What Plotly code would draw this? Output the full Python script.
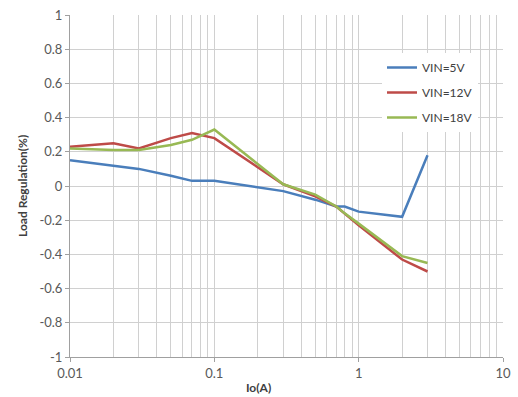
import plotly.graph_objects as go

io_a = [0.01, 0.02, 0.03, 0.05, 0.07, 0.1, 0.3, 0.5, 0.7, 0.8, 1, 2, 3]
vin5 = [0.15, 0.12, 0.10, 0.06, 0.03, 0.03, -0.03, -0.08, -0.12, -0.12, -0.15, -0.18, 0.18]
vin12 = [0.23, 0.25, 0.22, 0.28, 0.31, 0.28, 0.01, -0.06, -0.12, -0.16, -0.23, -0.43, -0.50]
vin18 = [0.22, 0.21, 0.21, 0.24, 0.27, 0.33, 0.01, -0.05, -0.12, -0.16, -0.22, -0.41, -0.45]

series = [("VIN=5V", vin5, "#4A7EBB"), ("VIN=12V", vin12, "#BE4B48"), ("VIN=18V", vin18, "#98B954")]

y_tickvals = [1, 0.8, 0.6, 0.4, 0.2, 0, -0.2, -0.4, -0.6, -0.8, -1]
y_ticktext = ["1", "0.8", "0.6", "0.4", "0.2", "0", "-0.2", "-0.4", "-0.6", "-0.8", "-1"]
x_tickvals = [0.01, 0.1, 1, 10]
x_ticktext = ["0.01", "0.1", "1", "10"]

fig = go.Figure()
for name, vals, color in series:
    fig.add_trace(go.Scatter(x=io_a, y=vals, mode="lines", name=name, legendgroup=name,
                             line=dict(color=color, width=2.5)))

font = "Lato, 'Open Sans', sans-serif"
grid = "#d0d0d0"
L, R, T, B = 70, 15, 15, 40
W, H = 518, 397
pw, ph = W - L - R, H - T - B
fig.update_layout(
    width=W, height=H, autosize=False,
    margin=dict(l=L, r=R, t=T, b=B, pad=0, autoexpand=False),
    paper_bgcolor="white", plot_bgcolor="white",
    font=dict(family=font, size=13, color="#595959"),
    showlegend=True,
    legend=dict(x=(382 - L) / pw, y=(H - B - 53) / ph, xanchor="left", yanchor="top",
                bgcolor="white", font=dict(size=12, color="#404040"),
                itemwidth=30, tracegroupgap=6),
    xaxis=dict(type="log", range=[-2, 1], tickvals=x_tickvals, ticktext=x_ticktext,
               showgrid=True, gridcolor=grid, gridwidth=1, automargin=False,
               minor=dict(dtick="D1", showgrid=True, gridcolor=grid, gridwidth=1, ticks=""),
               showline=True, linecolor="#a0a0a0", ticks="outside", ticklen=4,
               tickcolor="#a0a0a0", zeroline=False),
    yaxis=dict(range=[-1, 1], tickvals=y_tickvals, ticktext=y_ticktext,
               showgrid=True, gridcolor=grid, gridwidth=1, automargin=False,
               showline=True, linecolor="#a0a0a0", ticks="outside", ticklen=4,
               tickcolor="#a0a0a0", zeroline=False),
    annotations=[
        dict(text="<b>Io(A)</b>", x=(258 - L) / pw, y=(H - B - 388) / ph,
             xref="paper", yref="paper",
             xanchor="center", yanchor="middle", showarrow=False,
             font=dict(size=12, color="#404040")),
        dict(text="<b>Load Regulation(%)</b>", x=(22 - L) / pw, y=(H - B - 186) / ph,
             xref="paper", yref="paper", xanchor="center", yanchor="middle",
             showarrow=False, textangle=-90, font=dict(size=12, color="#404040")),
    ],
)

fig.write_html("out.html")
